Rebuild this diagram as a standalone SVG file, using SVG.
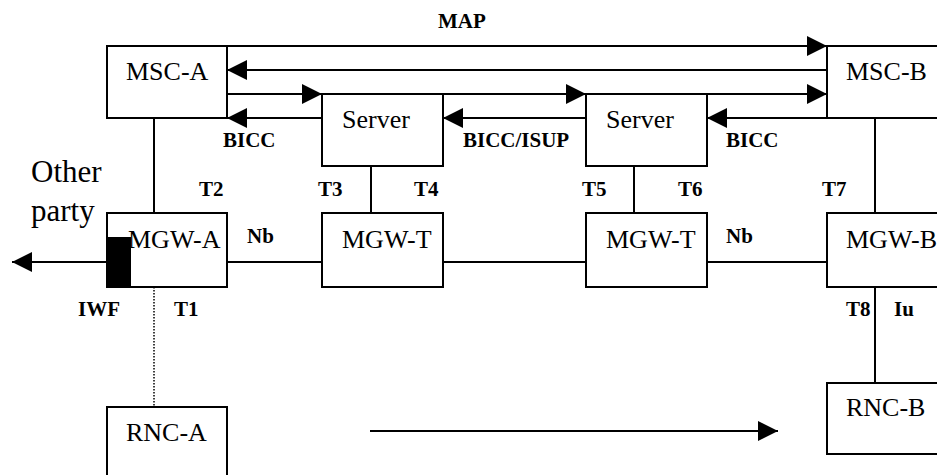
<svg xmlns="http://www.w3.org/2000/svg" width="937" height="475" viewBox="0 0 937 475" font-family="Liberation Serif, Times New Roman, serif">
<style>
.box{fill:#fff;stroke:#000;stroke-width:2}
.ln{stroke:#000;stroke-width:2;fill:none}
.dot{stroke:#000;stroke-width:1.5;fill:none;stroke-dasharray:1.5 1.5}
.t{font-size:26px;fill:#000}
.lb{font-size:21px;font-weight:bold;fill:#000}
.big{font-size:31px;fill:#000}
</style>
<defs>
<marker id="ah" viewBox="0 0 20 20" refX="20" refY="10" markerWidth="20" markerHeight="20" markerUnits="userSpaceOnUse" orient="auto">
<path d="M0,0 L20,10 L0,20 z" fill="#000"/>
</marker>
</defs>
<rect width="937" height="475" fill="#fff"/>
<g id="connectors">
<line class="ln" x1="227" y1="46" x2="827" y2="46" marker-end="url(#ah)"/>
<line class="ln" x1="827" y1="70" x2="227" y2="70" marker-end="url(#ah)"/>
<line class="ln" x1="227" y1="94" x2="322" y2="94" marker-end="url(#ah)"/>
<line class="ln" x1="443" y1="94" x2="586" y2="94" marker-end="url(#ah)"/>
<line class="ln" x1="707" y1="94" x2="827" y2="94" marker-end="url(#ah)"/>
<line class="ln" x1="322" y1="118" x2="227" y2="118" marker-end="url(#ah)"/>
<line class="ln" x1="586" y1="118" x2="443" y2="118" marker-end="url(#ah)"/>
<line class="ln" x1="827" y1="118" x2="707" y2="118" marker-end="url(#ah)"/>
<line class="ln" x1="154" y1="118" x2="154" y2="213"/>
<line class="ln" x1="371" y1="166" x2="371" y2="213"/>
<line class="ln" x1="634" y1="166" x2="634" y2="213"/>
<line class="ln" x1="875" y1="118" x2="875" y2="213"/>
<line class="ln" x1="106" y1="262" x2="12" y2="262" marker-end="url(#ah)"/>
<line class="ln" x1="227" y1="262" x2="322" y2="262"/>
<line class="ln" x1="443" y1="262" x2="586" y2="262"/>
<line class="ln" x1="707" y1="262" x2="827" y2="262"/>
<line class="dot" x1="154" y1="287" x2="154" y2="406"/>
<line class="ln" x1="875" y1="287" x2="875" y2="383"/>
<line class="ln" x1="370" y1="431" x2="778" y2="431" marker-end="url(#ah)"/>
</g>
<g id="msc-a"><rect class="box" x="107" y="46" width="120" height="72"/><text class="t" x="126" y="80">MSC-A</text></g>
<g id="msc-b"><rect class="box" x="827" y="46" width="130" height="72"/><text class="t" x="846" y="80">MSC-B</text></g>
<g id="server-1"><rect class="box" x="322" y="94" width="121" height="72"/><text class="t" x="342" y="128">Server</text></g>
<g id="server-2"><rect class="box" x="586" y="94" width="121" height="72"/><text class="t" x="606" y="128">Server</text></g>
<g id="mgw-a"><rect class="box" x="107" y="213" width="120" height="74"/><text class="t" x="128" y="248">MGW-A</text><rect x="106" y="237" width="25" height="50" fill="#000"/></g>
<g id="mgw-t-1"><rect class="box" x="322" y="213" width="121" height="74"/><text class="t" x="342" y="248">MGW-T</text></g>
<g id="mgw-t-2"><rect class="box" x="586" y="213" width="121" height="74"/><text class="t" x="606" y="248">MGW-T</text></g>
<g id="mgw-b"><rect class="box" x="827" y="213" width="130" height="74"/><text class="t" x="846" y="248">MGW-B</text></g>
<g id="rnc-a"><rect class="box" x="107" y="407" width="120" height="74"/><text class="t" x="126" y="441">RNC-A</text></g>
<g id="rnc-b"><rect class="box" x="827" y="383" width="130" height="71"/><text class="t" x="846" y="416">RNC-B</text></g>
<g id="labels">
<text class="lb" x="438" y="28">MAP</text>
<text class="lb" x="223" y="147">BICC</text>
<text class="lb" x="463" y="147">BICC/ISUP</text>
<text class="lb" x="726" y="147">BICC</text>
<text class="big" x="31" y="182">Other</text>
<text class="big" x="31" y="221">party</text>
<text class="lb" x="199" y="196">T2</text>
<text class="lb" x="318" y="196">T3</text>
<text class="lb" x="414" y="196">T4</text>
<text class="lb" x="582" y="196">T5</text>
<text class="lb" x="678" y="196">T6</text>
<text class="lb" x="822" y="196">T7</text>
<text class="lb" x="247" y="243">Nb</text>
<text class="lb" x="726" y="243">Nb</text>
<text class="lb" x="78" y="316">IWF</text>
<text class="lb" x="174" y="316">T1</text>
<text class="lb" x="846" y="316">T8</text>
<text class="lb" x="894" y="316">Iu</text>
</g>
</svg>
